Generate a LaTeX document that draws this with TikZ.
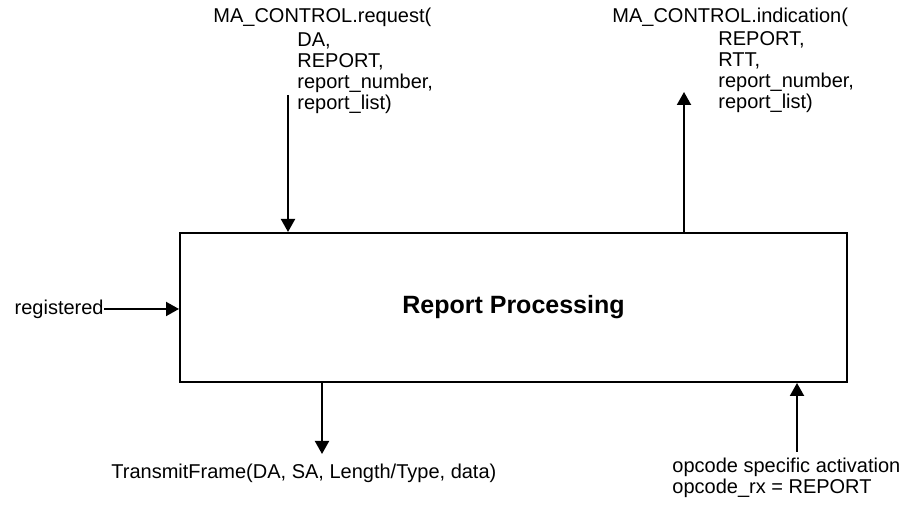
\documentclass[tikz,border=0pt]{standalone}
\usepackage{fontspec}
\setmainfont{Liberation Sans}
\usetikzlibrary{positioning,arrows.meta,calc}

\begin{document}
\begin{tikzpicture}[
  x=0.5pt, y=0.5pt,
  block/.style={draw, line width=1pt, minimum width=333.5pt, minimum height=74.5pt, inner sep=0pt},
  lbl/.style={inner sep=0pt, font=\fontsize{10}{10.5}\selectfont, align=left},
  sig/.style={line width=1pt, -{Triangle[length=6.5pt, width=7pt]}}
]
  \useasboundingbox (0,0) rectangle (906,506);

  % Central block
  \node[block, font=\fontsize{12.5}{15}\selectfont\bfseries] (rp) at (513.5, 198.5) {Report Processing};

  % Service primitives
  \node[lbl, anchor=west] (reqhead) at (213, 489) {MA\_CONTROL.request(};
  \node[lbl, anchor=north west] (reqargs) at (297, 474) {DA,\\REPORT,\\report\_number,\\report\_list)};
  \node[lbl, anchor=west] (indhead) at (612, 489) {MA\_CONTROL.indication(};
  \node[lbl, anchor=north west] (indargs) at (718, 475) {REPORT,\\RTT,\\report\_number,\\report\_list)};

  % Other inputs and outputs
  \node[lbl, anchor=east] (reg) at (104, 197) {registered};
  \node[lbl, anchor=west] (tx) at (111, 33) {TransmitFrame(DA, SA, Length/Type, data)};
  \node[lbl, anchor=north west] (opc) at (672, 48) {opcode specific activation\\opcode\_rx = REPORT};

  % Free ends
  \coordinate (reqstart) at (288, 411);
  \coordinate (indend) at (684, 414);
  \coordinate (txend) at (322, 52);
  \coordinate (opcstart) at (797, 54);

  % Connectors
  \draw[sig] (reqstart) -- (reqstart |- rp.north);
  \draw[sig] (indend |- rp.north) -- (indend);
  \draw[sig] (reg.east) -- (reg.east -| rp.west);
  \draw[sig] (txend |- rp.south) -- (txend);
  \draw[sig] (opcstart) -- (opcstart |- rp.south);
\end{tikzpicture}
\end{document}
